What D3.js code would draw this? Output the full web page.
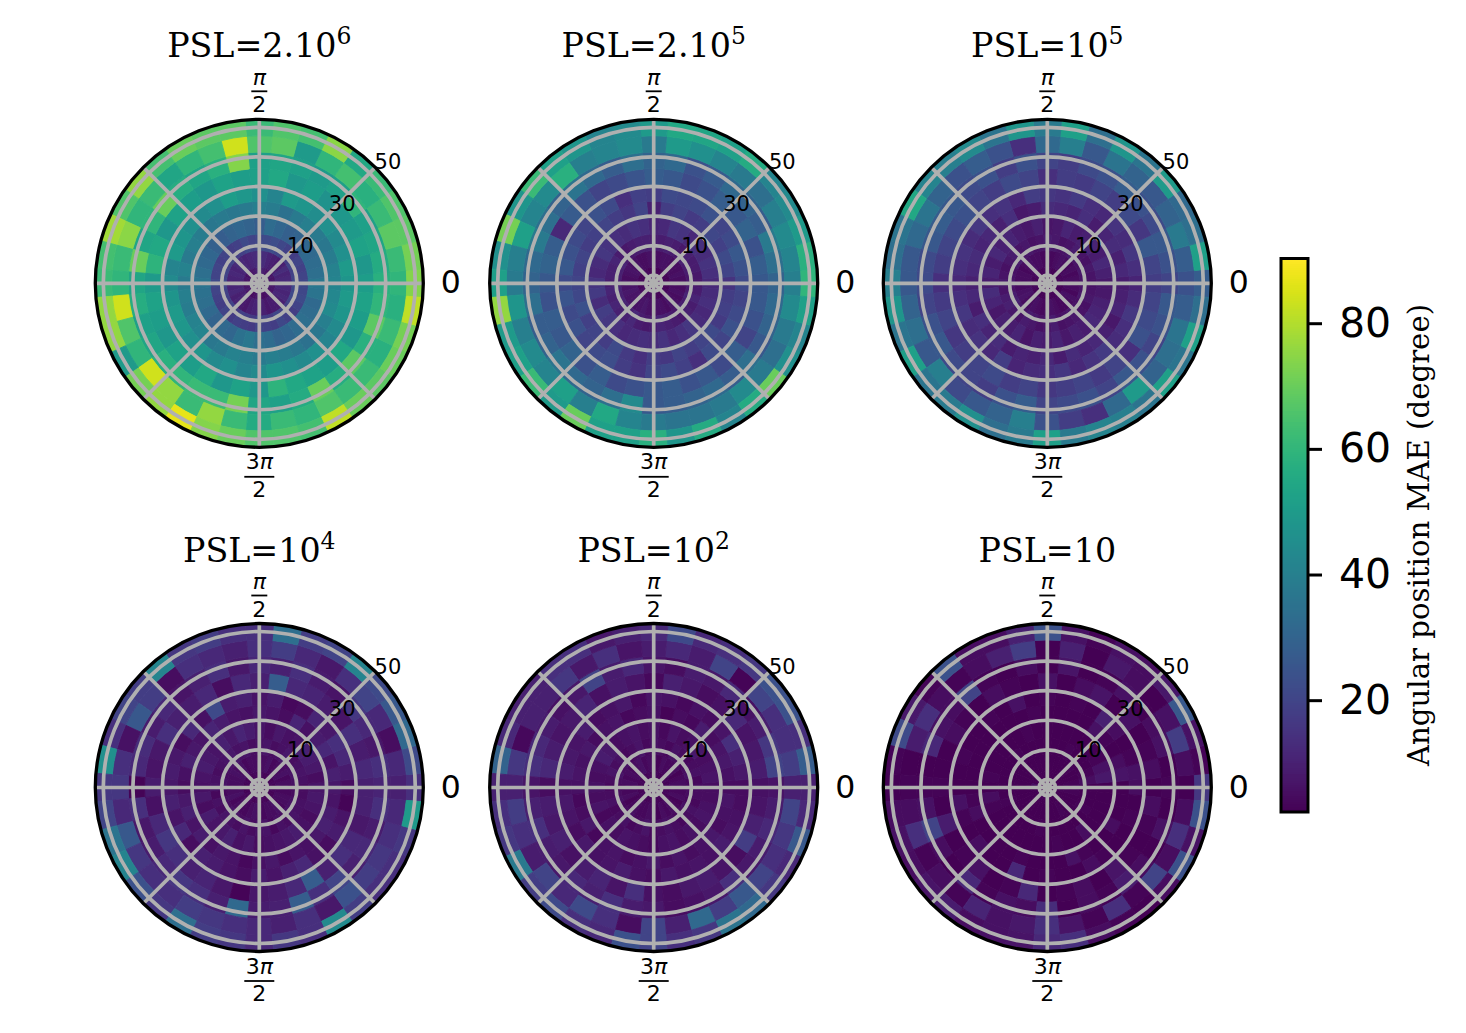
<!DOCTYPE html>
<html>
<head>
<meta charset="utf-8">
<script src="https://cdn.jsdelivr.net/npm/d3@7"></script>
<style>
body { margin: 0; background: #fff; }
text { font-family: "DejaVu Sans"; fill: #000; }
.serif { font-family: "DejaVu Serif"; }
</style>
</head>
<body>
<svg width="1466" height="1033"></svg>
<script>
// angle of each sector centre, degrees. one row per radial bin, inner bin first
var sectorAngles = d3.range(0, 360, 10)
var gridAngles = [0, 45, 90, 135, 180, 225, 270, 315]
var radialGrid = [0, 10, 20, 30, 40, 50]
var radialLabels = [10, 30, 50]
var colorTicks = [20, 40, 60, 80]

var psl2e6 = [
    [8,9,7,8,6,6,7,9,10,10,11,9,8,6,7,6,8,7, 6,7,8,9,5,6,5,6,8,9,6,5,6,7,6,7,8,8],
    [12,12,11,13,10,9,10,11,13,14,13,12,11,12,13,11,12,11, 10,11,12,10,11,9,8,10,11,12,10,8,9,9,10,12,11,12],
    [21,20,19,20,18,19,21,23,22,21,20,22,19,18,20,19,20,20, 22,20,19,18,20,17,19,18,17,20,19,18,21,19,18,20,22,21],
    [37,34,33,32,31,30,29,31,33,28,30,31,30,28,29,31,32,34, 36,35,34,32,30,32,31,35,37,34,33,30,31,33,34,33,32,36],
    [42,41,39,37,38,40,38,35,39,40,38,37,38,37,39,40,38,41, 38,40,39,41,42,37,38,41,40,38,40,39,37,35,37,40,44,43],
    [48,50,46,44,46,45,48,50,42,46,49,51,46,44,46,48,50,42, 44,48,50,49,46,48,44,46,42,44,48,46,44,46,42,44,48,50],
    [51,49,53,50,49,47,51,49,55,52,51,53,49,51,53,49,55,59, 50,53,51,49,53,51,55,49,53,49,59,55,53,51,55,49,51,53],
    [58,56,54,52,60,52,50,52,54,52,74,58,54,57,70,60,54,70, 54,57,52,54,58,60,62,62,72,54,52,56,70,57,68,58,68,60],
    [60,62,68,62,58,64,60,50,68,66,84,64,60,54,62,60,75,62, 60,84,66,60,84,76,62,76,62,56,62,60,66,62,62,58,62,58],
    [74,72,68,66,62,55,75,64,66,62,68,68,70,64,76,66,78,64, 62,76,76,50,72,76,87,74,70,66,66,64,82,70,68,70,72,82]
]
var psl2e5 = [
    [3,3,3,3,3,4,3,3,3,4,3,3,4,5,3,3,3,4, 3,3,4,5,4,4,5,6,5,4,4,3,3,4,3,4,3,3],
    [5,5,6,5,5,5,6,6,5,5,6,5,5,6,6,7,6,5, 6,7,8,7,7,6,7,8,6,5,6,6,5,7,6,5,6,5],
    [8,8,9,9,10,8,9,10,9,9,10,10,9,8,9,11,10,10, 9,11,10,11,10,10,12,9,8,9,11,10,9,8,10,9,11,9],
    [12,14,15,13,14,12,15,16,12,11,14,15,13,14,15,16,13,12, 15,17,13,18,16,14,12,13,14,13,15,12,14,16,13,12,14,13],
    [15,20,22,19,21,18,17,20,18,10,20,16,18,20,19,18,20,19, 20,21,24,19,20,18,22,17,14,18,16,20,18,20,22,17,19,18],
    [22,24,26,22,20,24,22,21,22,18,19,14,22,24,20,22,24,26, 22,25,22,24,20,22,23,18,15,20,22,19,14,22,20,24,22,20],
    [26,28,24,30,26,28,24,22,26,28,25,22,20,24,27,12,28,30, 26,24,28,26,30,24,28,22,24,26,28,24,26,22,28,20,24,26],
    [30,34,38,28,30,32,27,24,32,30,34,28,32,36,30,34,38,32, 30,34,28,30,36,32,30,34,44,26,28,30,32,28,34,26,30,32],
    [40,42,44,40,34,38,42,46,50,38,44,42,40,58,44,42,52,40, 38,48,40,44,42,52,40,55,42,38,36,36,38,44,38,34,38,44],
    [60,58,50,44,42,56,52,54,55,50,44,42,48,52,62,48,72,46, 52,76,50,52,62,50,70,52,52,58,48,56,42,56,70,46,42,52]
]
var psl1e5 = [
    [3,3,4,3,3,4,3,3,4,3,4,3,3,3,3,4,3,3, 3,3,4,3,3,4,3,3,3,4,3,3,3,3,4,3,3,3],
    [4,5,4,5,4,5,6,5,4,5,4,5,5,6,5,4,5,5, 4,5,6,7,5,5,6,5,4,5,6,5,4,4,5,6,4,5],
    [6,7,8,6,7,9,7,6,8,9,7,6,8,7,9,8,6,7, 8,7,9,10,8,7,9,8,6,7,9,6,7,8,7,6,8,7],
    [8,10,12,9,11,10,9,11,8,7,10,8,9,11,10,12,9,11, 9,13,11,8,10,9,11,7,10,9,11,8,10,9,12,11,10,8],
    [9,12,10,13,11,9,14,11,12,13,9,8,14,10,12,11,13,12, 10,12,9,14,11,13,9,11,10,12,9,13,11,12,10,8,11,10],
    [11,14,16,13,15,12,14,17,15,16,18,12,15,14,16,13,15,14, 12,14,16,13,15,12,18,11,13,14,16,12,15,17,13,14,16,13],
    [18,20,26,16,22,18,20,17,18,14,20,22,18,20,24,22,20,18, 14,17,20,16,18,20,22,18,20,16,18,20,17,20,14,24,22,20],
    [20,24,26,22,24,28,24,22,18,20,24,18,24,22,26,28,26,22, 22,20,24,26,22,20,18,24,28,20,22,24,20,26,24,20,24,26],
    [24,28,38,30,26,30,36,26,40,32,14,24,28,24,30,36,32,26, 26,30,34,26,40,22,26,30,40,24,18,14,32,50,30,34,36,28],
    [28,52,34,32,50,36,48,34,52,38,48,36,44,40,42,55,36,34, 40,48,36,52,36,38,46,34,38,52,38,42,40,36,52,36,52,34]
]
var psl1e4 = [
    [4,3,4,3,3,4,3,3,4,3,3,4,3,3,4,3,4,3, 4,3,3,4,3,3,4,3,4,3,3,4,3,3,4,3,3,4],
    [4,5,4,6,5,5,4,6,5,4,5,5,4,6,5,6,5,5, 4,5,6,4,5,4,4,5,6,5,4,5,5,6,4,5,5,4],
    [5,6,7,6,5,8,6,5,7,6,5,7,6,8,7,6,5,6, 7,4,6,5,7,6,5,7,5,6,7,4,6,5,7,6,6,5],
    [7,5,8,9,10,7,6,8,5,7,9,11,8,10,7,8,9,7, 6,8,5,9,7,8,10,6,8,5,6,7,8,9,6,5,7,8],
    [8,10,7,12,9,6,11,5,7,8,6,7,9,11,7,8,10,6, 5,8,10,7,9,6,8,7,4,6,8,5,7,6,8,10,9,7],
    [5,9,12,14,8,11,5,4,9,7,10,9,22,6,12,5,8,9, 8,10,7,12,5,10,9,7,5,9,7,10,12,6,5,9,7,3],
    [10,12,9,14,7,9,11,12,28,10,12,5,12,9,10,14,8,7, 9,6,12,16,14,10,11,8,3,8,9,12,28,10,14,12,8,10],
    [11,14,8,12,16,7,9,14,10,12,8,14,10,7,12,9,13,12, 3,14,8,9,12,16,14,10,32,9,10,28,14,20,10,12,9,14],
    [10,12,5,12,20,14,8,12,18,14,10,12,14,5,18,26,6,14, 16,12,26,16,14,14,18,16,14,12,10,14,8,24,18,16,14,12],
    [14,22,32,26,22,42,20,18,34,14,14,18,16,42,18,20,14,46, 16,20,36,42,24,16,34,18,16,12,16,14,44,18,14,14,16,50]
]
var psl1e2 = [
    [4,4,3,4,3,4,3,3,4,3,3,4,3,4,3,3,4,3, 4,3,3,4,3,4,3,3,4,3,4,3,3,4,3,3,4,3],
    [4,5,4,3,5,4,4,5,3,4,5,4,6,5,4,5,4,5, 4,4,5,3,4,5,4,4,5,4,3,5,4,5,4,3,5,4],
    [5,4,6,5,4,5,6,4,5,6,4,7,5,4,6,5,7,5, 4,5,6,4,5,6,4,5,7,4,5,6,5,4,5,6,4,5],
    [5,7,6,5,8,6,5,7,4,6,5,7,6,5,8,9,6,5, 6,5,7,4,6,5,7,6,5,4,6,7,5,6,5,7,6,5],
    [5,6,8,7,5,9,4,5,3,6,5,4,7,6,5,8,6,7, 6,4,5,8,4,6,7,5,6,8,5,7,5,6,8,5,6,7],
    [5,8,10,14,7,5,6,4,6,7,4,8,6,5,9,7,8,9, 6,8,7,5,8,6,7,9,6,5,8,6,7,6,9,7,6,5],
    [6,9,8,7,12,6,5,8,10,4,7,9,6,11,8,7,9,12, 5,9,8,10,6,9,11,7,14,6,5,8,9,7,5,18,10,7],
    [7,20,16,9,6,12,8,9,5,7,12,9,20,8,6,9,12,14, 7,10,14,9,8,12,10,14,9,8,5,6,8,14,8,9,12,9],
    [10,18,14,14,20,3,20,9,12,9,7,14,8,16,10,10,4,16, 10,18,14,9,20,12,22,14,5,20,10,32,18,26,20,14,16,20],
    [10,28,14,24,24,16,14,12,22,12,10,8,14,14,10,10,12,30, 10,14,16,38,18,22,14,12,24,20,14,16,36,32,16,12,26,12]
]
var psl10 = [
    [3,2,2,2,2,2,2,2,2,2,2,2,2,2,2,2,2,5, 5,2,2,2,2,2,2,2,2,2,2,2,2,2,2,2,2,3],
    [5,3,2,2,3,2,2,2,2,2,2,2,2,2,2,2,2,2, 2,2,2,2,2,2,2,2,2,2,2,2,3,2,2,2,2,3],
    [2,5,3,2,2,2,3,2,2,2,2,2,2,3,2,2,2,2, 2,2,3,2,2,2,2,2,3,2,2,2,2,2,2,3,2,2],
    [2,8,6,3,2,2,2,2,2,2,2,3,2,2,2,2,2,3, 2,5,3,2,2,2,2,2,2,2,3,2,2,5,2,2,2,2],
    [2,7,5,2,3,6,2,2,2,2,3,2,2,2,2,2,2,2, 2,3,5,2,2,2,2,3,2,2,2,6,3,2,2,5,2,2],
    [5,6,3,2,5,10,2,3,2,3,2,6,2,3,2,2,3,2, 2,6,3,2,5,2,2,12,2,3,2,2,5,3,2,2,3,2],
    [2,5,3,2,6,2,7,5,2,6,2,3,5,2,3,5,2,2, 3,2,9,2,3,6,2,3,12,2,3,5,2,7,3,2,3,5],
    [3,2,6,5,2,6,3,2,7,2,5,2,3,20,5,6,12,2, 3,6,20,5,2,12,3,6,5,13,2,5,3,9,5,2,6,2],
    [2,5,18,6,2,5,8,2,10,2,18,10,5,3,5,14,9,2, 3,5,14,3,5,3,11,6,8,14,7,3,14,3,20,5,14,5],
    [16,3,6,26,8,5,6,3,6,24,10,5,5,24,3,8,22,3, 2,5,6,5,7,9,5,6,7,12,14,5,3,2,5,24,6,24]
]

var panelBases = ["PSL=2.10", "PSL=2.10", "PSL=10", "PSL=10", "PSL=10", "PSL=10"]
var panelExps = ["6", "5", "5", "4", "2", ""]
var panelData = [psl2e6, psl2e5, psl1e5, psl1e4, psl1e2, psl10]

var svg = d3.select("svg")
var gridColor = "#b0b0b0"
var colCenters = [259.3, 653.7, 1047.3]
var rowCenters = [283.3, 787.5]
var outerR = 164

var color = d3.scaleSequential(d3.interpolateViridis).domain([2.2, 90.3])
var rScale = d3.scaleLinear().domain([-2.74, 52.7]).range([0, outerR])
var aScale = d3.scaleLinear().domain([0, 360]).range([Math.PI / 2, Math.PI / 2 - 2 * Math.PI])
var binEdges = d3.range(0, 11).map(function (i) {
    return -2.74 + i * (52.7 + 2.74) / 10
})

function drawFraction(g, x, yTop, top, barGap) {
    // mathtext style fraction, built by hand
    var num = g.append("text").attr("x", x).attr("y", yTop).attr("text-anchor", "middle")
        .style("font-size", "22px")
    if (top.length > 1) num.append("tspan").text(top[0])
    num.append("tspan").style("font-style", "italic").text("π")
    var barW = top.length > 1 ? 30 : 16
    g.append("line").attr("x1", x - barW / 2).attr("x2", x + barW / 2)
        .attr("y1", yTop + barGap).attr("y2", yTop + barGap)
        .attr("stroke", "#000").attr("stroke-width", 1.8)
    g.append("text").attr("x", x).attr("y", yTop + 27.5).attr("text-anchor", "middle")
        .style("font-size", "22px").text("2")
}

function drawPanel(rows, base, exp, cx, cy) {
    var g = svg.append("g").attr("transform", "translate(" + cx + "," + cy + ")")
    var arc = d3.arc()

    rows.forEach(function (row, i) {
        g.append("g").selectAll("path")
            .data(row)
            .enter().append("path")
            .attr("d", function (d, j) {
                return arc({
                    innerRadius: rScale(binEdges[i]),
                    outerRadius: rScale(binEdges[i + 1]),
                    startAngle: aScale(sectorAngles[j] + 5),
                    endAngle: aScale(sectorAngles[j] - 5)
                })
            })
            .attr("fill", function (d) { return color(d) })
            .attr("stroke", function (d) { return color(d) })
            .attr("stroke-width", 0.9)
    })

    g.selectAll(".ring")
        .data(radialGrid)
        .enter().append("circle")
        .attr("class", "ring")
        .attr("r", function (d) { return rScale(d) })
        .attr("fill", "none")
        .attr("stroke", gridColor)
        .attr("stroke-width", 3.7)

    g.selectAll(".spoke")
        .data(gridAngles)
        .enter().append("line")
        .attr("class", "spoke")
        .attr("x1", 0).attr("y1", 0)
        .attr("x2", function (d) { return outerR * Math.cos(d * Math.PI / 180) })
        .attr("y2", function (d) { return -outerR * Math.sin(d * Math.PI / 180) })
        .attr("stroke", gridColor)
        .attr("stroke-width", 3.7)

    g.append("circle").attr("r", outerR)
        .attr("fill", "none").attr("stroke", "#000").attr("stroke-width", 3.3)

    g.selectAll(".rlabel")
        .data(radialLabels)
        .enter().append("text")
        .attr("class", "rlabel")
        .attr("x", function (d) { return rScale(d) * Math.SQRT1_2 + 1 + (d === 50 ? 4 : 0) })
        .attr("y", function (d) { return -rScale(d) * Math.SQRT1_2 - 3.5 })
        .style("font-size", "21px")
        .text(function (d) { return d })

    g.append("text").attr("x", 191.5).attr("y", 10).attr("text-anchor", "middle")
        .style("font-size", "31.5px").text("0")

    drawFraction(g, 0, -198.5, "π", 6.5)
    drawFraction(g, 0, 186, "3π", 7.5)

    var title = g.append("text").attr("class", "serif")
        .attr("x", 0).attr("y", -226).attr("text-anchor", "middle")
        .style("font-size", "33.3px")
    title.append("tspan").text(base)
    if (exp) {
        title.append("tspan").attr("dy", -13).style("font-size", "23.5px").text(exp)
    }
}

panelData.forEach(function (rows, k) {
    drawPanel(rows, panelBases[k], panelExps[k], colCenters[k % 3], rowCenters[Math.floor(k / 3)])
})

// colour bar
var barX = 1281, barW = 27, barTop = 258.5, barBottom = 812
var barScale = d3.scaleLinear().domain(color.domain()).range([barBottom, barTop])
var steps = d3.range(0, 256).map(function (i) {
    return 2.2 + i * (90.3 - 2.2) / 256
})
svg.append("g").attr("shape-rendering", "crispEdges").selectAll("rect")
    .data(steps)
    .enter().append("rect")
    .attr("x", barX)
    .attr("width", barW)
    .attr("y", function (d) { return barScale(d + (90.3 - 2.2) / 256) })
    .attr("height", (barBottom - barTop) / 256 + 1)
    .attr("fill", function (d) { return color(d) })

var barAxis = svg.append("g")
    .attr("transform", "translate(" + (barX + barW) + ",0)")
    .call(d3.axisRight(barScale).tickValues(colorTicks).tickSize(14).tickPadding(17))
barAxis.select(".domain").remove()
barAxis.selectAll("line").attr("stroke", "#000").attr("stroke-width", 3)
barAxis.selectAll("text").style("font-family", "DejaVu Sans").style("font-size", "41px")

svg.append("rect").attr("x", barX).attr("y", barTop).attr("width", barW)
    .attr("height", barBottom - barTop)
    .attr("fill", "none").attr("stroke", "#000").attr("stroke-width", 3)

svg.append("text").attr("class", "serif")
    .attr("transform", "translate(1429,535) rotate(-90)")
    .attr("text-anchor", "middle")
    .style("font-size", "29.2px")
    .text("Angular position MAE (degree)")
</script>
</body>
</html>
